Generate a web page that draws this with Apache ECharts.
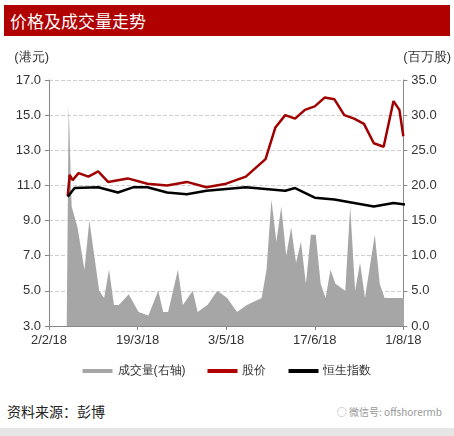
<!DOCTYPE html>
<html lang="zh">
<head>
<meta charset="UTF-8" />
<script src="https://cdn.jsdelivr.net/npm/echarts@6/dist/echarts.min.js"></script>
<style>
  * { margin: 0; }
  body { width: 454px; height: 436px; background: #fff; font-family: "Noto Sans CJK SC", sans-serif; position: relative; overflow: hidden; }
  #title { position: absolute; left: 4px; top: 5px; width: 446px; height: 31px; background: #b00000; color: #fff; font-size: 17px; line-height: 31px; padding-left: 6px; box-sizing: border-box; }
  #chart { position: absolute; left: 0; top: 36px; width: 454px; height: 360px; }
  #src { position: absolute; left: 7px; top: 401px; font-size: 14px; color: #222; }
  #wm { position: absolute; right: 12px; top: 404px; font-size: 10px; color: #999; }
  #band { position: absolute; left: 0; top: 428px; width: 454px; height: 8px; background: #e6e6e6; }
</style>
</head>
<body>
<div id="title">价格及成交量走势</div>
<div id="chart"></div>
<div id="src">资料来源：彭博</div>
<div id="wm">◌ 微信号: offshorermb</div>
<div id="band"></div>
<script>
  const tickLabels = ["2/2/18", "19/3/18", "3/5/18", "17/6/18", "1/8/18"];

  // day offset from 2/2/18
  const priceDays = [9.5, 10.5, 12, 15, 20, 25, 30, 40, 50, 60, 70, 80, 90, 100, 110, 115, 120, 125, 130, 135, 140, 145, 150, 155, 160, 165, 170, 175, 178, 180];
  const priceVals = [10.4, 11.6, 11.3, 11.7, 11.5, 11.8, 11.2, 11.4, 11.1, 11.0, 11.2, 10.9, 11.1, 11.5, 12.5, 14.3, 15.0, 14.8, 15.3, 15.5, 16.0, 15.9, 15.0, 14.8, 14.5, 13.4, 13.2, 15.8, 15.3, 13.8];

  const hsiDays = [9.5, 13, 25, 35, 43, 50, 60, 70, 80, 90, 100, 110, 120, 125, 135, 145, 155, 165, 175, 182];
  const hsiVals = [10.35, 10.85, 10.9, 10.6, 10.9, 10.9, 10.6, 10.5, 10.7, 10.8, 10.9, 10.8, 10.7, 10.85, 10.3, 10.2, 10.0, 9.8, 10.0, 9.9];

  const volDays = [9, 10, 11.5, 14.5, 18, 20.5, 23, 25.5, 28, 30.5, 33, 35.5, 40.5, 45.5, 50.5, 55.5, 58, 60.5, 65.5, 68, 73, 75.5, 80.5, 85.5, 90.5, 95.5, 100.5, 108, 110.5, 113, 115.5, 118, 120.5, 123, 125.5, 128, 130.5, 133, 135.5, 138, 140.5, 143, 145.5, 150.5, 153, 155.5, 158, 160.5, 165.5, 168, 170.5, 175.5, 180.5];
  const volVals = [0, 31.4, 17, 14, 8, 15, 10, 5, 4, 8, 3, 3, 4.5, 2, 1.5, 5, 2, 2, 8, 3, 5, 2, 3, 5, 4, 2, 3, 4, 8, 18, 12, 17, 10, 14, 9, 12, 6, 13, 13, 6, 4, 8, 6, 5, 17, 5, 9, 4, 13, 6, 4, 4, 4];

  const zip = (a, b) => a.map((d, i) => [d, b[i]]);

  const chart = echarts.init(document.getElementById("chart"));
  chart.setOption({
    animation: false,
    grid: { left: 49, right: 44, top: 44, bottom: 70 },
    legend: {
      bottom: 14,
      itemGap: 22,
      textStyle: { fontSize: 12, color: "#333" },
      data: [
        { name: "成交量(右轴)", icon: "rect", itemStyle: { color: "#a6a6a6" } },
        { name: "股价", icon: "rect", itemStyle: { color: "#b00000" } },
        { name: "恒生指数", icon: "rect", itemStyle: { color: "#000" } },
      ],
      itemWidth: 30,
      itemHeight: 4,
    },
    xAxis: {
      type: "value",
      min: 0, max: 180, interval: 45,
      axisLine: { lineStyle: { color: "#888" } },
      axisTick: { show: true, length: 4, lineStyle: { color: "#888" } },
      splitLine: { show: false },
      axisLabel: { fontSize: 13, color: "#333", formatter: (v) => tickLabels[Math.round(v / 45)] },
    },
    yAxis: [
      {
        type: "value", min: 3, max: 17, interval: 2,
        name: "(港元)", nameLocation: "end", nameGap: 16,
        nameTextStyle: { fontSize: 13, color: "#333", align: "right", padding: [0, 0, 0, 0] },
        axisLine: { show: true, lineStyle: { color: "#888" } },
        axisTick: { show: true, length: 4, lineStyle: { color: "#888" } },
        axisLabel: { fontSize: 13, color: "#333", formatter: (v) => v.toFixed(1) },
        splitLine: { lineStyle: { color: "#d0d0d0", type: "dashed" } },
      },
      {
        type: "value", min: 0, max: 35, interval: 5,
        name: "(百万股)", nameLocation: "end", nameGap: 16,
        nameTextStyle: { fontSize: 13, color: "#333", align: "left" },
        axisLine: { show: true, lineStyle: { color: "#888" } },
        axisTick: { show: true, length: 4, lineStyle: { color: "#888" } },
        axisLabel: { fontSize: 13, color: "#333", formatter: (v) => v.toFixed(1) },
        splitLine: { show: false },
      },
    ],
    series: [
      {
        name: "成交量(右轴)", type: "line", yAxisIndex: 1, data: zip(volDays, volVals),
        symbol: "none", lineStyle: { width: 0 }, itemStyle: { color: "#a6a6a6" },
        areaStyle: { color: "#a6a6a6", opacity: 1 },
      },
      {
        name: "股价", type: "line", data: zip(priceDays, priceVals),
        symbol: "none", lineStyle: { width: 2.5, color: "#a00000" }, itemStyle: { color: "#a00000" },
      },
      {
        name: "恒生指数", type: "line", data: zip(hsiDays, hsiVals),
        symbol: "none", lineStyle: { width: 2.5, color: "#000" }, itemStyle: { color: "#000" },
      },
    ],
  });
</script>
</body>
</html>
